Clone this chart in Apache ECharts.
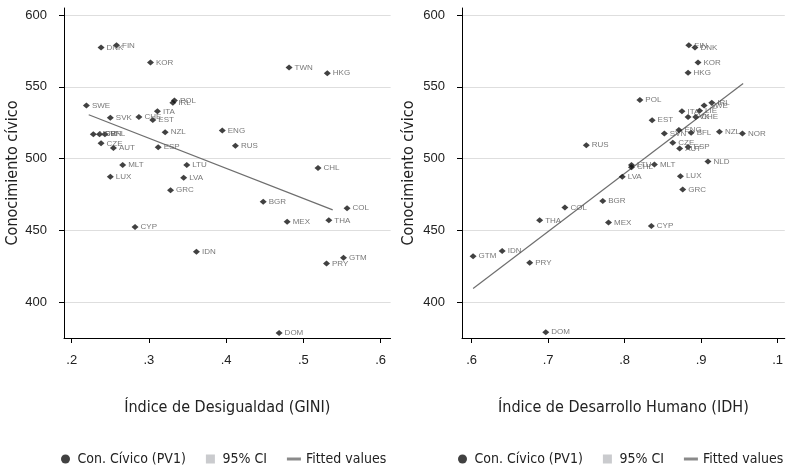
<!DOCTYPE html>
<html><head><meta charset="utf-8">
<script src="https://cdn.jsdelivr.net/npm/echarts@6/dist/echarts.min.js"></script>
<style>html,body{margin:0;padding:0;background:#fff}#c{width:786px;height:469px}</style>
</head><body><div id="c"></div>
<script>
// ---- data ----
const leftCountries = ['DNK','FIN','KOR','TWN','HKG','SWE','POL','IRL','ITA','SVK','CHE','EST','NZL','ENG','NOR','SVN','BFL','CZE','AUT','ESP','RUS','MLT','LTU','LUX','LVA','GRC','CHL','BGR','COL','MEX','THA','CYP','IDN','GTM','PRY','DOM'];
const giniValues = [0.238,0.258,0.302,0.4815,0.531,0.219,0.333,0.331,0.311,0.250,0.287,0.305,0.321,0.395,0.228,0.236,0.243,0.238,0.254,0.312,0.412,0.266,0.349,0.250,0.345,0.328,0.519,0.448,0.5566,0.479,0.533,0.282,0.3615,0.552,0.530,0.4686];
const leftScores = [577.5,579,567,563.5,559.6,537,540.6,539,533,528.5,529,527,518.4,519.6,517,517,517,510.7,507.5,508,509,495.6,495.6,487.4,486.7,478,493.5,470,465.5,456,457,452.4,435.2,431,427,378.5];

const rightCountries = ['DNK','FIN','KOR','HKG','POL','IRL','SWE','ITA','LIE','SVK','CHE','EST','ENG','NZL','BFL','SVN','NOR','CZE','AUT','ESP','RUS','NLD','MLT','LTU','CHL','LUX','LVA','GRC','BGR','COL','THA','MEX','CYP','IDN','GTM','PRY','DOM'];
const idhValues = [0.892,0.884,0.896,0.883,0.820,0.914,0.904,0.875,0.898,0.883,0.893,0.836,0.871,0.924,0.887,0.852,0.954,0.863,0.872,0.883,0.750,0.909,0.839,0.809,0.809,0.873,0.797,0.876,0.7715,0.722,0.689,0.779,0.835,0.640,0.602,0.676,0.697];
const rightScores = [577.5,579,567,559.8,540.8,539,537,533,533.3,529,529,526.8,519.9,518.7,518,517.6,517.6,511,507,508.2,509.4,498,496,495.5,494,487.8,487.3,478.5,470.4,466,457,455.5,453,435.7,432,427.4,379];

const giniFitX = [0.222, 0.538];
const giniFitY = [530.6, 464.3];
const idhFitX = [0.602, 0.955];
const idhFitY = [409.5, 552.4];

const yTicks = [400,450,500,550,600];
const giniTicks = [0.2,0.3,0.4,0.5,0.6];
const giniTickLabels = ['.2','.3','.4','.5','.6'];
const idhTicks = [0.6,0.7,0.8,0.9,1.0];
const idhTickLabels = ['.6','.7','.8','.9','.1'];

const yTitle = 'Conocimiento cívico';
const leftXTitle = 'Índice de Desigualdad (GINI)';
const rightXTitle = 'Índice de Desarrollo Humano (IDH)';
const legendNames = ['Con. Cívico (PV1)','95% CI','Fitted values'];

// ---- chart ----
const narrow = '"Liberation Sans Narrow", "DejaVu Sans Condensed", "Liberation Sans", sans-serif';
const sans = '"Liberation Sans", Arial, sans-serif';

function pts(xs, ys, names){ return xs.map((x,i)=>({value:[x, ys[i]], name:names[i]})); }
function fit(xs, ys){ return xs.map((x,i)=>[x, ys[i]]); }

function xAxis(idx, min, max, ticks, labels, title){
  return {
    type:'value', gridIndex:idx, min:min, max:max,
    axisLine:{show:true, onZero:false, lineStyle:{color:'#000', width:1}},
    axisTick:{show:true, length:5, customValues:ticks, lineStyle:{color:'#000'}},
    axisLabel:{customValues:ticks, margin:16, fontSize:13, color:'#222', fontFamily:sans,
      formatter:function(v){ const k = ticks.findIndex(t=>Math.abs(t-v)<1e-6); return k>=0?labels[k]:''; }},
    splitLine:{show:false},
    name:title, nameLocation:'middle', nameGap:62,
    nameTextStyle:{fontSize:16, color:'#222', fontFamily:narrow}
  };
}
function yAxis(idx, gap){
  return {
    type:'value', gridIndex:idx, min:375, max:605,
    axisLine:{show:true, onZero:false, lineStyle:{color:'#000', width:1}},
    axisTick:{show:true, length:5, customValues:yTicks, lineStyle:{color:'#000'}},
    axisLabel:{customValues:yTicks, margin:17, fontSize:13, color:'#222', fontFamily:sans},
    splitLine:{show:true, lineStyle:{color:'#dedede', width:1}},
    name:yTitle, nameLocation:'middle', nameGap:gap,
    nameTextStyle:{fontSize:16, color:'#222', fontFamily:narrow}
  };
}
function scatter(idx, data){
  return {
    name:legendNames[0], type:'scatter', xAxisIndex:idx, yAxisIndex:idx,
    symbol:'diamond', symbolSize:[7,6], itemStyle:{color:'#111'},
    data:data,
    label:{show:true, position:'right', distance:2, formatter:'{b}', fontSize:8, color:'#555', fontFamily:sans},
    emphasis:{disabled:true}, z:3
  };
}
function ci(idx){
  return {name:legendNames[1], type:'scatter', xAxisIndex:idx, yAxisIndex:idx, data:[], itemStyle:{color:'#bdbec2'}};
}
function fitLine(idx, data){
  return {name:legendNames[2], type:'line', xAxisIndex:idx, yAxisIndex:idx, data:data,
    symbol:'none', lineStyle:{color:'#6e6e6e', width:1.2}, itemStyle:{color:'#8a8a8a'}, z:2, silent:true};
}
function legend(left){
  return {
    left:left, top:447, width:420, orient:'horizontal', itemGap:20, itemWidth:14, itemHeight:9,
    textStyle:{fontSize:14, color:'#222', fontFamily:narrow},
    selectedMode:false,
    data:[
      {name:legendNames[0], icon:'circle', itemStyle:{color:'#111'}},
      {name:legendNames[1], icon:'path://M0,0h9v9h-9z', itemStyle:{color:'#bdbec2'}},
      {name:legendNames[2], icon:'path://M0,0h14v3h-14z', itemStyle:{color:'#8a8a8a'}}
    ]
  };
}

const chart = echarts.init(document.getElementById('c'), null, {renderer:'canvas'});
chart.setOption({
  animation:false,
  backgroundColor:'#fff',
  grid:[
    {left:64, top:8, width:326.6, height:330},
    {left:462, top:8, width:328, height:330}
  ],
  xAxis:[
    xAxis(0, 0.19, 0.613, giniTicks, giniTickLabels, leftXTitle),
    xAxis(1, 0.5875, 1.0094, idhTicks, idhTickLabels, rightXTitle)
  ],
  yAxis:[ yAxis(0, 43), yAxis(1, 45) ],
  legend:[ legend(56), legend(453) ],
  series:[
    scatter(0, pts(giniValues, leftScores, leftCountries)),
    ci(0),
    fitLine(0, fit(giniFitX, giniFitY)),
    scatter(1, pts(idhValues, rightScores, rightCountries)),
    ci(1),
    fitLine(1, fit(idhFitX, idhFitY))
  ]
});
</script></body></html>
